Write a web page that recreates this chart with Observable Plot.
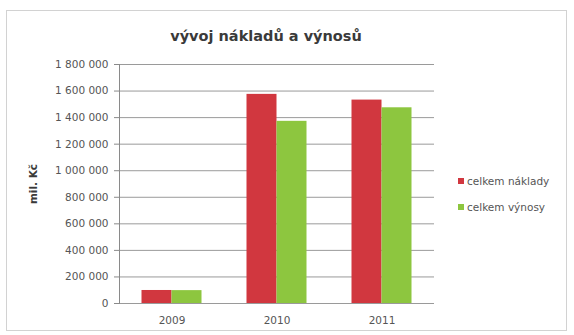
<!DOCTYPE html>
<html><head><meta charset="utf-8">
<script src="https://cdn.jsdelivr.net/npm/d3@7"></script>
<script src="https://cdn.jsdelivr.net/npm/@observablehq/plot@0.6"></script>
<style>
body{margin:0;background:#fff;}
#wrap{position:relative;width:574px;height:335px;font-family:"DejaVu Sans",sans-serif;overflow:hidden;}
#border{position:absolute;left:6px;top:10px;width:561px;height:321px;border:1px solid #d2d2d2;box-sizing:border-box;}
#chart{position:absolute;left:0;top:0;}
#title{position:absolute;left:0;width:532px;top:28px;text-align:center;font-weight:bold;font-size:14.5px;line-height:17px;color:#3a3a3a;}
#legend{position:absolute;left:458px;top:174px;font-size:10.5px;color:#555;}
.item{display:flex;align-items:center;height:13px;margin-bottom:13px;white-space:nowrap;}
.sw{width:6px;height:6px;margin-right:3px;}
g[aria-label="y-axis label"] text{font-weight:bold;fill:#3a3a3a;}
</style>
</head><body>
<div id="wrap">
  <div id="border"></div>
  <div id="chart"></div>
  <div id="title">vývoj nákladů a výnosů</div>
  <div id="legend"></div>
</div>
<script>
const years = ["2009", "2010", "2011"];
const seriesNames = ["celkem náklady", "celkem výnosy"];
const naklady = [98000, 1575000, 1532000];
const vynosy = [97000, 1372000, 1474000];
const yTicks = [0, 200000, 400000, 600000, 800000, 1000000, 1200000, 1400000, 1600000, 1800000];
const colors = ["#d1373f", "#8dc63f"];

const rowsN = years.map((y, i) => ({year: y, value: naklady[i], series: seriesNames[0]}));
const rowsV = years.map((y, i) => ({year: y, value: vynosy[i], series: seriesNames[1]}));
const fmt = v => d3.format(",")(v).replace(/,/g, " ");

const chart = Plot.plot({
  width: 574,
  height: 335,
  marginTop: 64,
  marginBottom: 32,
  marginLeft: 119,
  marginRight: 140,
  style: {background: "transparent", fontFamily: "DejaVu Sans, sans-serif", fontSize: "10.5px", color: "#555", overflow: "visible"},
  x: {domain: years, padding: 0},
  y: {domain: [0, 1800000]},
  color: {domain: seriesNames, range: colors},
  marks: [
    Plot.gridY(yTicks, {stroke: "#9a9a9a", strokeOpacity: 1}),
    Plot.barY(rowsN, {x: "year", y: "value", fill: "series", insetLeft: 22.5, insetRight: 52.5}),
    Plot.barY(rowsV, {x: "year", y: "value", fill: "series", insetLeft: 52.5, insetRight: 22.5}),
    Plot.frame({anchor: "left", stroke: "#8a8a8a"}),
    Plot.axisY({ticks: yTicks, tickFormat: fmt, tickSize: 5, tickPadding: 6, stroke: "#8a8a8a",
      label: "mil. Kč", labelAnchor: "center", labelArrow: "none", labelOffset: 90}),
    Plot.axisX({tickSize: 0, tickPadding: 13, label: null})
  ]
});
document.getElementById("chart").appendChild(chart);

const legend = document.getElementById("legend");
seriesNames.forEach((s, i) => {
  const it = document.createElement("div");
  it.className = "item";
  const sw = document.createElement("span");
  sw.className = "sw";
  sw.style.background = colors[i];
  const t = document.createElement("span");
  t.textContent = s;
  it.appendChild(sw); it.appendChild(t);
  legend.appendChild(it);
});
</script>
</body></html>
